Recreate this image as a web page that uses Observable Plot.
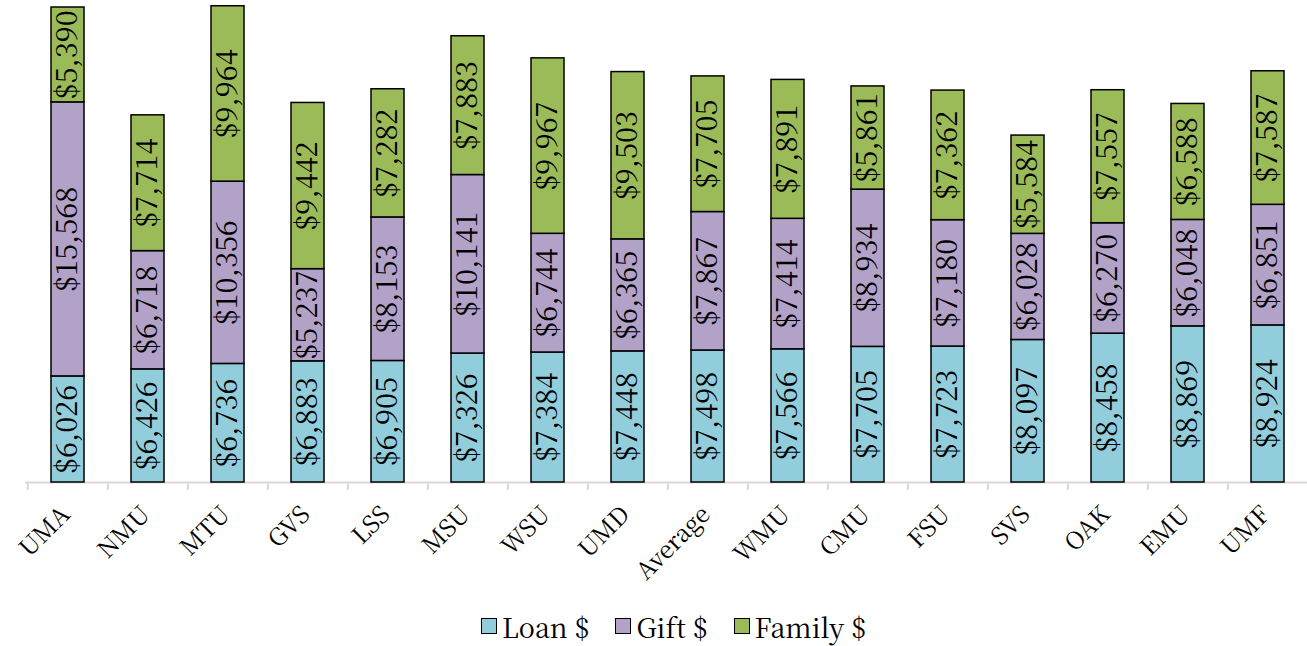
<!DOCTYPE html>
<html>
<head>
<meta charset="utf-8">
<script src="https://cdn.jsdelivr.net/npm/d3@7"></script>
<script src="https://cdn.jsdelivr.net/npm/@observablehq/plot@0.6"></script>
<style>
  body { margin: 0; background: #fff; }
  #legend { display: flex; justify-content: center; align-items: center; height: 40px; padding-left: 40px; font-size: 27px; color: #000; }
  .item { display: flex; align-items: center; margin-right: 26px; }
  .item:last-child { margin-right: 0; }
  .sw { width: 14px; height: 14px; border: 1.5px solid #000; margin-right: 5px; }
</style>
</head>
<body>
<div id="chart"></div>
<div id="legend"></div>
<script>
const categories = ["UMA","NMU","MTU","GVS","LSS","MSU","WSU","UMD","Average","WMU","CMU","FSU","SVS","OAK","EMU","UMF"];
const loan   = [6026, 6426, 6736, 6883, 6905, 7326, 7384, 7448, 7498, 7566, 7705, 7723, 8097, 8458, 8869, 8924];
const gift   = [15568, 6718, 10356, 5237, 8153, 10141, 6744, 6365, 7867, 7414, 8934, 7180, 6028, 6270, 6048, 6851];
const family = [5390, 7714, 9964, 9442, 7282, 7883, 9967, 9503, 7705, 7891, 5861, 7362, 5584, 7557, 6588, 7587];
const seriesNames = ["Loan $", "Gift $", "Family $"];
const seriesColors = ["#92CDDC", "#B3A2C7", "#9BBB59"];

const seriesValues = [loan, gift, family];
const data = [];
categories.forEach((c, i) => {
  seriesNames.forEach((s, k) => data.push({category: c, series: s, value: seriesValues[k][i]}));
});
const fmt = v => "$" + d3.format(",")(v);

const FONT = "Noto Serif CJK SC";
const W = 1307, H = 606;
const chart = Plot.plot({
  width: W,
  height: H,
  marginLeft: 25,
  marginRight: -3,
  marginTop: 0,
  marginBottom: 124,
  style: {background: "#fff", color: "#000", fontFamily: FONT},
  x: {domain: categories, paddingInner: 0.59, paddingOuter: 0.295, label: null},
  y: {domain: [0, 27382], axis: null},
  color: {domain: seriesNames, range: seriesColors},
  marks: [
    Plot.ruleY([0], {stroke: "#d9d9d9", strokeWidth: 2}),
    Plot.ruleX(categories, {x: d => d, y1: 0, y2: 0, insetBottom: -8, dx: -(W - 22) / 32, stroke: "#d9d9d9", strokeWidth: 2}),
    Plot.barY(data, Plot.stackY({x: "category", y: "value", z: "series", fill: "series", stroke: "#000", strokeWidth: 1.5, order: null})),
    Plot.text(data, Plot.stackY({x: "category", y: "value", z: "series", text: d => fmt(d.value), rotate: -90, fontSize: 29, fill: "#000", order: null})),
    Plot.axisX({tickRotate: -45, tickSize: 0, tickPadding: 8, fontSize: 24, label: null, fill: "#000", dx: -2, dy: 20})
  ]
});
document.getElementById("chart").appendChild(chart);

const legend = document.getElementById("legend");
legend.style.fontFamily = FONT;
seriesNames.forEach((s, k) => {
  const it = document.createElement("div");
  it.className = "item";
  const sw = document.createElement("div");
  sw.className = "sw";
  sw.style.background = seriesColors[k];
  const t = document.createElement("span");
  t.style.fontFamily = FONT;
  t.textContent = s;
  it.appendChild(sw); it.appendChild(t);
  legend.appendChild(it);
});
</script>
</body>
</html>
